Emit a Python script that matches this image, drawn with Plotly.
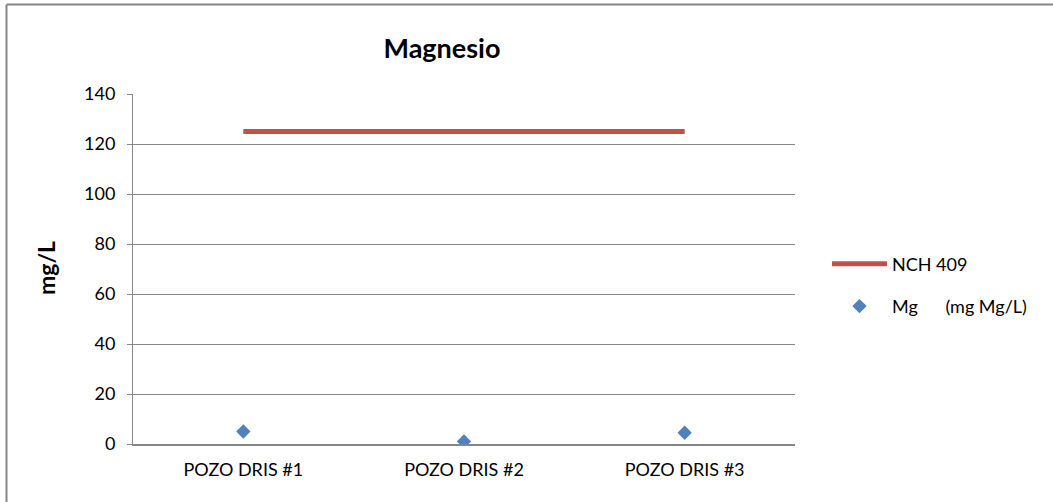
import plotly.graph_objects as go

pozos = ["POZO DRIS #1", "POZO DRIS #2", "POZO DRIS #3"]
nch_409 = [125, 125, 125]
mg = [5.0, 1.0, 4.5]

GRIS = "#868686"
FUENTE = "Lato, 'Open Sans', sans-serif"

fig = go.Figure()
fig.add_trace(go.Scatter(
    x=pozos, y=nch_409,
    mode="lines",
    name="NCH 409",
    line=dict(color="#C0504D", width=5),
    legendgroup="a",
))
fig.add_trace(go.Scatter(
    x=pozos, y=mg,
    mode="markers",
    name="Mg" + "\u00a0" * 6 + "(mg Mg/L)",
    marker=dict(symbol="diamond", color="#4F81BD", size=11),
    legendgroup="b",
))

# borde exterior del grafico (solo arriba e izquierda visibles)
pw, ph = 662, 350
bx = (6.5 - 133) / pw
by = (444 - 4.5) / ph
fig.add_shape(type="line", xref="paper", yref="paper", x0=bx, x1=2, y0=by, y1=by,
              line=dict(color=GRIS, width=2))
fig.add_shape(type="line", xref="paper", yref="paper", x0=bx, x1=bx, y0=-1, y1=by,
              line=dict(color=GRIS, width=2))

fig.add_annotation(text="<b>mg/L</b>", textangle=-90, xref="paper", yref="paper",
                   x=(46 - 133) / pw, y=(444 - 268) / ph, xanchor="center",
                   yanchor="middle", showarrow=False,
                   font=dict(size=23, color="black", family=FUENTE))

fig.update_layout(
    width=1053, height=502,
    margin=dict(l=133, r=258, t=94, b=58),
    paper_bgcolor="white", plot_bgcolor="white",
    font=dict(family=FUENTE, size=18, color="black"),
    title=dict(text="<b>Magnesio</b>", x=442 / 1053, xanchor="center",
               y=1 - 49 / 502, yanchor="middle",
               font=dict(size=27, color="black")),
    xaxis=dict(range=[-0.5, 2.5], showline=True, linecolor=GRIS, linewidth=2,
               showgrid=False, ticks="outside", ticklen=8, tickcolor="rgba(0,0,0,0)"),
    yaxis=dict(range=[0, 140], dtick=20, showline=True, linecolor=GRIS, linewidth=1,
               gridcolor=GRIS, gridwidth=1, ticks="outside", ticklen=5, tickcolor=GRIS,
               ticklabelstandoff=8, zeroline=False),
    legend=dict(x=(827 - 133) / pw, xanchor="left", y=(444 - 285) / ph, yanchor="middle",
                tracegroupgap=16, itemwidth=55, font=dict(size=18)),
)

fig.write_html("out.html", config={"displayModeBar": False},
               post_script="document.body.style.margin='0';")
